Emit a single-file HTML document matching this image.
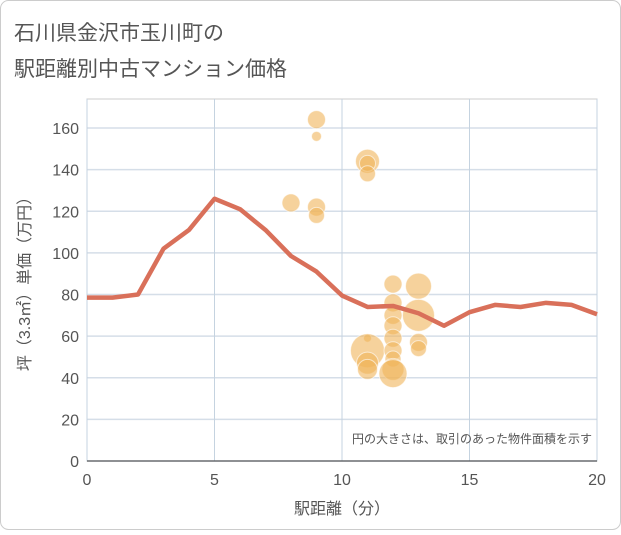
<!DOCTYPE html>
<html><head><meta charset="utf-8"><style>
body{margin:0;background:#fff;}
#c{position:relative;width:621px;height:530px;font-family:"Liberation Sans","Noto Sans CJK JP",sans-serif;}
</style></head><body>
<div id="c">
<svg id="s" width="621" height="530" xmlns="http://www.w3.org/2000/svg">
<rect x="0.5" y="0.5" width="620" height="529" rx="8" fill="#fff" stroke="#ccc"/>
<text x="14" y="40" font-size="21" fill="#555" font-family="Liberation Sans,Noto Sans CJK JP,sans-serif">石川県金沢市玉川町の</text>
<text x="14" y="76" font-size="21" fill="#555" font-family="Liberation Sans,Noto Sans CJK JP,sans-serif">駅距離別中古マンション価格</text>
<g id="grid"></g><g id="bub"></g><g id="ln"></g><g id="ax"></g>
<text x="592" y="443" font-size="12" fill="#555" text-anchor="end" font-family="Liberation Sans,Noto Sans CJK JP,sans-serif">円の大きさは、取引のあった物件面積を示す</text>
<text x="342" y="514" font-size="16" fill="#555" text-anchor="middle" font-family="Liberation Sans,Noto Sans CJK JP,sans-serif">駅距離（分）</text>
<text transform="translate(30,280) rotate(-90)" font-size="16" fill="#555" text-anchor="middle" font-family="Liberation Sans,Noto Sans CJK JP,sans-serif">坪（3.3㎡）単価（万円）</text>
</svg></div>
<script>
const xTicks=[0,5,10,15,20];
const yTicks=[0,20,40,60,80,100,120,140,160];
const lineX=[0,1,2,3,4,5,6,7,8,9,10,11,12,13,14,15,16,17,18,19,20];
const lineY=[78.5,78.5,80,102,111,126,121,111,98.5,91,79.5,74,74.5,71,65,71.5,75,74,76,75,70.5];
const bubX=[8,9,9,9,9,11,11,11,11,11,11,11,12,12,12,12,12,12,12,12,12,13,13,13,13];
const bubY=[124,164,156,122,118,144,143,138,59,53,47,44,85,76,70,65,59,53,49,44,42,84,70,57,54];
const bubR=[9,9,5,9,8,12,8,8,4,17,11,10,9,9,9,9,9,9,8,11,14,13,16,9,8];
const NS='http://www.w3.org/2000/svg';
const L=87,R=597,T=99,B=461;
const xs=v=>L+(R-L)*v/20, ys=v=>B-(B-128)*v/160;
function mk(p,t,a){const e=document.createElementNS(NS,t);for(const k in a)e.setAttribute(k,a[k]);document.getElementById(p).appendChild(e);return e;}
const g='grid';
let e=mk(g,'rect',{x:L,y:T,width:R-L,height:B-T,fill:'#fff',stroke:'#ccc'});


yTicks.forEach(v=>{let l=mk(g,'line',{x1:L,x2:R,y1:ys(v),y2:ys(v),stroke:'#d5dee8','stroke-width':1.5});


let t=mk('ax','text',{x:L-8,y:ys(v)+6,'font-size':16,fill:'#555','text-anchor':'end'});t.textContent=v;

});
xTicks.forEach(v=>{let l=mk(g,'line',{x1:xs(v),x2:xs(v),y1:T,y2:B,stroke:'#c5d3e0','stroke-width':1});


let t=mk('ax','text',{x:xs(v),y:B+24,'font-size':16,fill:'#555','text-anchor':'middle'});t.textContent=v;

});
let a=mk('ax','line',{x1:L,x2:R,y1:B,y2:B,stroke:'#333','stroke-width':1});


bubX.forEach((x,i)=>{let c=mk('bub','circle',{cx:xs(x),cy:ys(bubY[i]),r:bubR[i],fill:'rgba(240,180,90,0.6)',stroke:'rgba(255,255,255,0.6)','stroke-width':1});

});
let p=mk('ln','polyline',{points:lineX.map((x,i)=>xs(x)+','+ys(lineY[i])).join(' '),fill:'none',stroke:'#d9705a','stroke-width':4.5,'stroke-linejoin':'round'});


</script>
</body></html>
